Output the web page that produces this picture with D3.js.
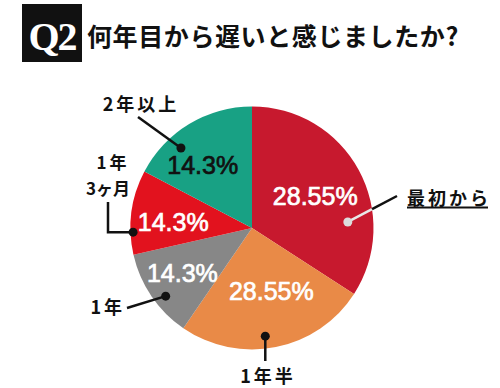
<!DOCTYPE html>
<html><head><meta charset="utf-8">
<script src="https://cdn.jsdelivr.net/npm/d3@7"></script>
<style>
html,body{margin:0;padding:0;background:#fff;}
svg{display:block;}
</style></head>
<body>
<svg id="c" width="500" height="388"></svg>
<script>
// ---- data ----
const categories = ["最初から", "1年半", "1年", "1年3ヶ月", "2年以上"];
const percentLabels = ["28.55%", "28.55%", "14.3%", "14.3%", "14.3%"];
// slice sizes as drawn in the picture (share of the circle, %)
const sliceShares = [34.1, 25.4, 11.9, 11.2, 17.3];
const titleBadge = "Q2";
const titleText = "何年目から遅いと感じましたか?";

// ---- layout / style ----
const W = 500, H = 388;
const cx = 252, cy = 228, R = 121.5;
const colors = ["#c7192e", "#e98a47", "#878787", "#e2121e", "#18a184"];
const pctColors = ["#fff", "#fff", "#fff", "#fff", "#111"];
// percentage label placement: [angle deg (clockwise from 12 o'clock), radius]
const pctPos = [[63, 71], [163, 66], [237, 83], [274, 79], [322, 80]];
const cjk = "'Noto Sans CJK JP', sans-serif";

const svg = d3.select("#c");
svg.append("rect").attr("width", W).attr("height", H).attr("fill", "#fff");

// title
svg.append("rect").attr("x", 22).attr("y", 4).attr("width", 60).attr("height", 58).attr("fill", "#111");
svg.append("text").attr("x", 52).attr("y", 50).attr("text-anchor", "middle")
  .attr("font-family", "'Liberation Serif', 'DejaVu Serif', serif").attr("font-size", 40)
  .attr("font-weight", 700)
  .attr("fill", "#fff").attr("letter-spacing", -2).text(titleBadge);
svg.append("text").attr("x", 87).attr("y", 35).attr("dominant-baseline", "central")
  .attr("font-family", cjk).attr("font-weight", 700).attr("font-size", 25)
  .attr("letter-spacing", 0.6).attr("fill", "#111").text(titleText);

function polar(aDeg, r) {
  const a = aDeg * Math.PI / 180;
  return [cx + r * Math.sin(a), cy - r * Math.cos(a)];
}

const pie = d3.pie().sort(null).value(d => d)(sliceShares);
const arc = d3.arc().innerRadius(0).outerRadius(R);
const g = svg.append("g").attr("transform", `translate(${cx},${cy})`);
g.selectAll("path").data(pie).join("path")
  .attr("d", arc).attr("fill", (d, i) => colors[i]);

// percentage labels
svg.selectAll("text.pct").data(pie).join("text").attr("class", "pct")
  .attr("x", (d, i) => polar(pctPos[i][0], pctPos[i][1])[0])
  .attr("y", (d, i) => polar(pctPos[i][0], pctPos[i][1])[1])
  .attr("text-anchor", "middle").attr("dominant-baseline", "central")
  .attr("font-family", "'Liberation Sans', Arial, sans-serif").attr("font-size", 25)
  .attr("fill", (d, i) => pctColors[i])
  .attr("stroke", (d, i) => pctColors[i]).attr("stroke-width", 0.7)
  .text((d, i) => percentLabels[i]);

// callouts
const labelFont = sel => sel.attr("font-family", cjk).attr("font-weight", 700)
  .attr("font-size", 18).attr("letter-spacing", 3).attr("fill", "#111")
  .attr("dominant-baseline", "central");

function dot(p, fill) {
  svg.append("circle").attr("cx", p[0]).attr("cy", p[1]).attr("r", 4.5).attr("fill", fill);
}
function line(pts, color, w) {
  svg.append("path").attr("d", d3.line()(pts)).attr("fill", "none")
    .attr("stroke", color).attr("stroke-width", w || 2.5);
}

// 0: 最初から  (black outside the pie, white inside)
{
  const p = polar(86.4, 96), q = [397, 196];
  const dx = q[0] - p[0], dy = q[1] - p[1];
  let t0 = 0, t1 = 1;
  for (let k = 0; k < 40; k++) {
    const t = (t0 + t1) / 2;
    const x = p[0] + dx * t - cx, y = p[1] + dy * t - cy;
    if (Math.hypot(x, y) < R) t0 = t; else t1 = t;
  }
  const e = [p[0] + dx * t0, p[1] + dy * t0];
  line([p, e], "#e8e8e8", 2.5);
  line([e, q], "#111", 2.5);
  dot(p, "#dcdcdc");
  svg.append("text").attr("x", 407).attr("y", 197).attr("text-anchor", "start")
    .call(labelFont).text(categories[0]);
  line([[407, 207.5], [488, 207.5]], "#111", 2);
}
// 1: 1年半
{
  const p = polar(173, 109);
  line([p, [p[0], 361]], "#111");
  dot(p, "#111");
  svg.append("text").attr("x", 268).attr("y", 375).attr("text-anchor", "middle")
    .call(labelFont).text(categories[1]);
}
// 2: 1年
{
  const p = polar(231.7, 110);
  line([p, [127, 308]], "#111");
  dot(p, "#111");
  svg.append("text").attr("x", 125).attr("y", 306).attr("text-anchor", "end")
    .call(labelFont).text(categories[2]);
}
// 3: 1年3ヶ月
{
  const p = polar(268, 119);
  line([p, [108, p[1]], [108, 202]], "#111");
  dot(p, "#111");
  svg.append("text").attr("x", 113).attr("y", 161).attr("text-anchor", "middle")
    .call(labelFont).attr("font-size", 17).text(categories[3].slice(0, 2));
  svg.append("text").attr("x", 108).attr("y", 187).attr("text-anchor", "middle")
    .call(labelFont).attr("font-size", 17).attr("letter-spacing", 0).text(categories[3].slice(2));
}
// 4: 2年以上
{
  const p = polar(318.4, 107);
  line([p, [138, 117]], "#111");
  dot(p, "#111");
  svg.append("text").attr("x", 141).attr("y", 103).attr("text-anchor", "middle")
    .call(labelFont).text(categories[4]);
}
</script>
</body></html>
